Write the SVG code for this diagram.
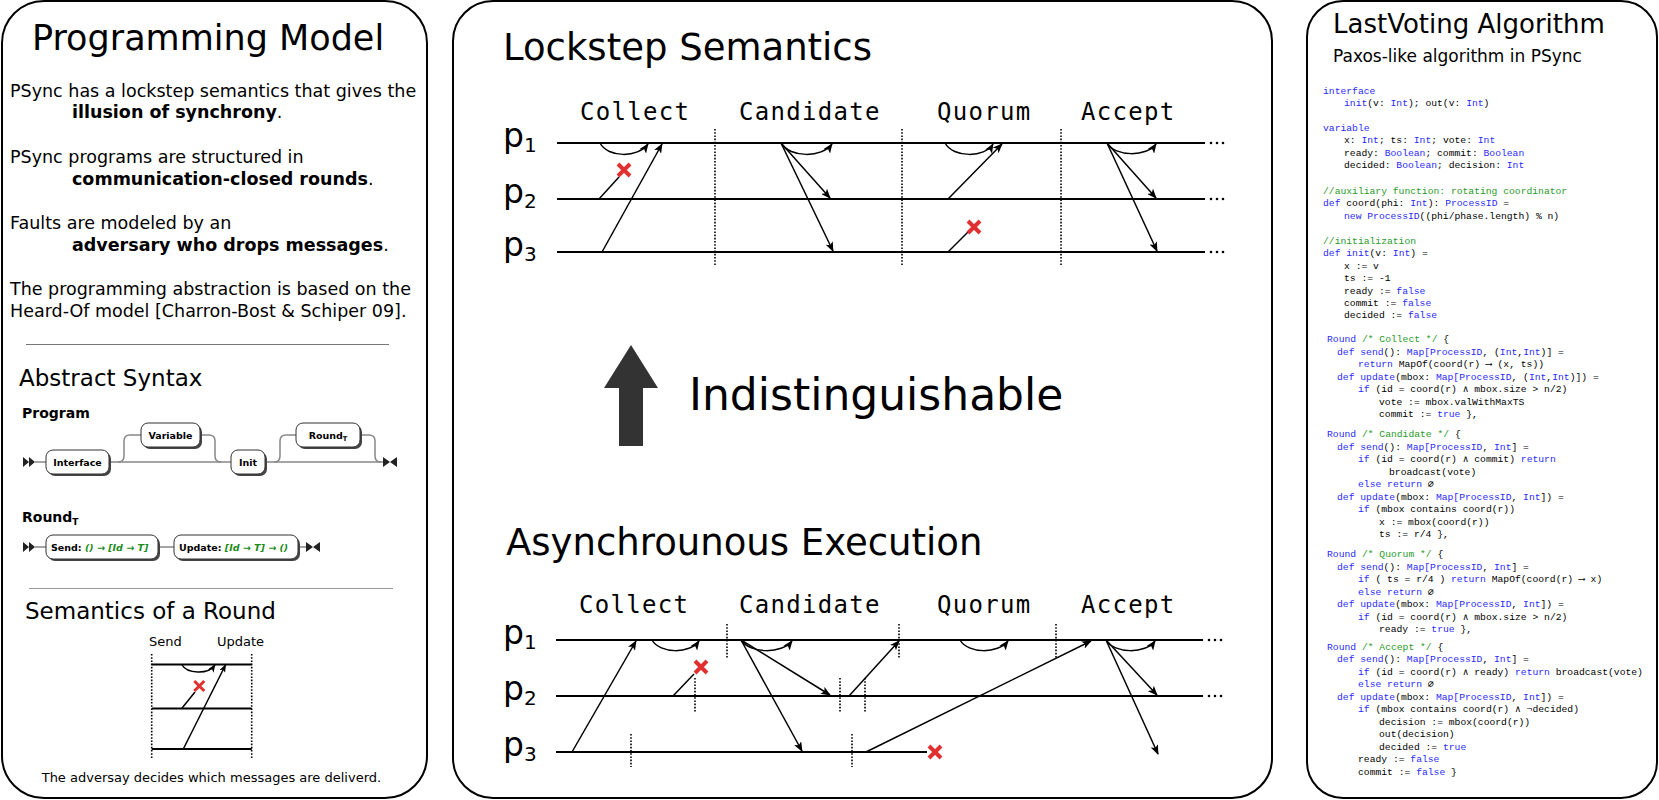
<svg xmlns="http://www.w3.org/2000/svg" width="1659" height="800" viewBox="0 0 1659 800">
<defs>
<style>
.panel{fill:#fff;stroke:#000;stroke-width:2}
.t{font-family:"DejaVu Sans",sans-serif;fill:#000}
.b{font-weight:bold}
.lab{font-family:"DejaVu Sans Mono",monospace;font-size:24px;letter-spacing:1.3px;fill:#000}
.pl{font-family:"DejaVu Sans",sans-serif;font-size:33px;fill:#000}
.ps{font-family:"DejaVu Sans",sans-serif;font-size:20px;fill:#000}
.pline{stroke:#000;stroke-width:2;fill:none}
.msg{stroke:#000;stroke-width:1.5;fill:none}
.arr{stroke:#000;stroke-width:1.5;fill:none;marker-end:url(#ah)}
.dot{stroke:#000;stroke-width:1.6;stroke-dasharray:1.6 1.6;fill:none}
.xm{stroke:#e03030;stroke-width:4;fill:none}
.xs{stroke:#e03030;stroke-width:3;fill:none}
.rail{stroke:#888;stroke-width:1.5;fill:none}
.box{fill:#fff;stroke:#333;stroke-width:1}
.shd{fill:#444}
.bt{font-family:"DejaVu Sans",sans-serif;font-weight:bold;font-size:9.5px;fill:#000}
.gr{fill:#1a8c1a;font-style:italic}
.code{font-family:"Liberation Mono",monospace;font-size:9.7px;fill:#000}
.k{fill:#2a2aff}
.c{fill:#2a9a2a}
</style>
<marker id="ah" viewBox="0 0 10 8" refX="9" refY="4" markerWidth="10" markerHeight="8" orient="auto" markerUnits="userSpaceOnUse"><path d="M0,0 L10,4 L0,8 L2.5,4 z" fill="#000"/></marker>
<marker id="ahs" viewBox="0 0 10 8" refX="9" refY="4" markerWidth="8" markerHeight="6.4" orient="auto" markerUnits="userSpaceOnUse"><path d="M0,0 L10,4 L0,8 L2.5,4 z" fill="#000"/></marker>
<path id="xbig" d="M-6,-6 L6,6 M6,-6 L-6,6"/>
<path id="xsm" d="M-5,-5 L5,5 M5,-5 L-5,5"/>
</defs>

<!-- ============ LEFT PANEL ============ -->
<g id="panel-left">
<rect class="panel" x="2" y="1" width="425" height="797" rx="42" ry="42"/>
<text class="t" x="32" y="50" font-size="35">Programming Model</text>
<g font-size="17.5">
<text class="t" x="10" y="97">PSync has a lockstep semantics that gives the</text>
<text class="t" x="72" y="118"><tspan class="b">illusion of synchrony</tspan>.</text>
<text class="t" x="10" y="163">PSync programs are structured in</text>
<text class="t" x="72" y="185"><tspan class="b">communication-closed rounds</tspan>.</text>
<text class="t" x="10" y="229">Faults are modeled by an</text>
<text class="t" x="72" y="251"><tspan class="b">adversary who drops messages</tspan>.</text>
<text class="t" x="10" y="295">The programming abstraction is based on the</text>
<text class="t" x="10" y="317">Heard-Of model [Charron-Bost &amp; Schiper 09].</text>
</g>
<line x1="26" y1="344.5" x2="389" y2="344.5" stroke="#777" stroke-width="1.2"/>
<text class="t" x="19" y="386" font-size="23">Abstract Syntax</text>
<text class="t b" x="22" y="418" font-size="14">Program</text>
</g>

<g id="rail-program">
<path class="rail" d="M35,462 H46 M109,462 H231 M265,462 H383"/>
<path class="rail" d="M118,462 q6,0 6,-6 v-15 q0,-6 6,-6 h11 M200,435 h9 q6,0 6,6 v15 q0,6 6,6"/>
<path class="rail" d="M274,462 q6,0 6,-6 v-15 q0,-6 6,-6 h10 M360,435 h9 q6,0 6,6 v15 q0,6 6,6"/>
<path d="M23,457 L29,462 L23,467 z M29,457 L35,462 L29,467 z" fill="#222"/>
<path d="M383,457 L390,462 L383,467 z M397,457 L390,462 L397,467 z" fill="#222"/>
<g id="n-interface"><rect class="shd" x="48" y="452" width="63" height="24" rx="7"/><rect class="box" x="46" y="450" width="63" height="24" rx="7"/><text class="bt" x="77.5" y="465.5" text-anchor="middle">Interface</text></g>
<g id="n-variable"><rect class="shd" x="143" y="425" width="59" height="24" rx="7"/><rect class="box" x="141" y="423" width="59" height="24" rx="7"/><text class="bt" x="170.5" y="438.5" text-anchor="middle">Variable</text></g>
<g id="n-init"><rect class="shd" x="233" y="452" width="34" height="24" rx="7"/><rect class="box" x="231" y="450" width="34" height="24" rx="7"/><text class="bt" x="248" y="465.5" text-anchor="middle">Init</text></g>
<g id="n-roundT"><rect class="shd" x="298" y="425" width="64" height="24" rx="7"/><rect class="box" x="296" y="423" width="64" height="24" rx="7"/><text class="bt" x="328" y="438.5" text-anchor="middle">Round<tspan font-size="6.5" dy="2">T</tspan></text></g>
</g>

<g id="rail-round">
<text class="t b" x="22" y="522" font-size="14">Round<tspan font-size="9" dy="3">T</tspan></text>
<path class="rail" d="M35,547 H46 M158,547 H174 M298,547 H306"/>
<path d="M23,542 L29,547 L23,552 z M29,542 L35,547 L29,552 z" fill="#222"/>
<path d="M306,542 L313,547 L306,552 z M320,542 L313,547 L320,552 z" fill="#222"/>
<g id="n-send"><rect class="shd" x="48" y="537" width="112" height="24" rx="7"/><rect class="box" x="46" y="535" width="112" height="24" rx="7"/><text class="bt" x="51" y="550.5">Send: <tspan class="gr">() → [Id → T]</tspan></text></g>
<g id="n-update"><rect class="shd" x="176" y="537" width="124" height="24" rx="7"/><rect class="box" x="174" y="535" width="124" height="24" rx="7"/><text class="bt" x="179" y="550.5">Update: <tspan class="gr">[Id → T] → ()</tspan></text></g>
</g>

<g id="round-semantics">
<line x1="29" y1="588.5" x2="393" y2="588.5" stroke="#999" stroke-width="1.2"/>
<text class="t" x="25" y="619" font-size="23">Semantics of a Round</text>
<text class="t" x="149" y="646" font-size="13">Send</text>
<text class="t" x="217" y="646" font-size="13">Update</text>
<path class="dot" d="M151.7,654 V758 M251.7,654 V758" stroke-width="1.2"/>
<path class="pline" d="M151.7,664.5 H251.7 M151.7,708.5 H251.7 M151.7,749 H251.7" stroke-width="1.5"/>
<path class="msg" d="M181.7,664.5 C187,674 208,675 215,665" marker-end="url(#ahs)" stroke-width="1.2"/>
<path class="msg" d="M183.3,749 L225.5,665" marker-end="url(#ahs)" stroke-width="1.2"/>
<path class="msg" d="M181.7,708.5 L195,692" stroke-width="1.2"/>
<use href="#xsm" class="xs" x="199.3" y="686"/>
<text class="t" x="41.7" y="782" font-size="13">The adversay decides which messages are deliverd.</text>
</g>

<!-- ============ MIDDLE PANEL ============ -->
<g id="panel-middle">
<rect class="panel" x="453" y="1" width="819" height="797" rx="40" ry="40"/>
<text class="t" x="503" y="60" font-size="37">Lockstep Semantics</text>
<text class="t" x="689" y="410" font-size="44">Indistinguishable</text>
<path d="M631,345 L604,388 L619,388 L619,446 L643,446 L643,388 L658,388 z" fill="#333"/>
<text class="t" x="506" y="555" font-size="37">Asynchrounous Execution</text>
</g>

<g id="lockstep">
<text class="lab" x="580" y="120">Collect</text>
<text class="lab" x="739" y="120">Candidate</text>
<text class="lab" x="937" y="120">Quorum</text>
<text class="lab" x="1081" y="120">Accept</text>
<text class="pl" x="503" y="147">p<tspan class="ps" dy="5">1</tspan></text>
<text class="pl" x="503" y="203">p<tspan class="ps" dy="5">2</tspan></text>
<text class="pl" x="503" y="256">p<tspan class="ps" dy="5">3</tspan></text>
<path class="pline" d="M557,143 H1205 M557,199 H1205 M557,252 H1205"/>
<g fill="#000"><circle cx="1211" cy="143" r="1.3"/><circle cx="1217" cy="143" r="1.3"/><circle cx="1223" cy="143" r="1.3"/><circle cx="1211" cy="199" r="1.3"/><circle cx="1217" cy="199" r="1.3"/><circle cx="1223" cy="199" r="1.3"/><circle cx="1211" cy="252" r="1.3"/><circle cx="1217" cy="252" r="1.3"/><circle cx="1223" cy="252" r="1.3"/></g>
<path class="dot" d="M715,129 V265 M902,129 V265 M1061,129 V265"/>
</g>

<g id="lockstep-connectors">
<path class="arr" d="M600,143 C608,158 638,158 648,144"/>
<path class="arr" d="M602,252 L662,144"/>
<path class="msg" d="M599,199 L619,177"/>
<use href="#xbig" class="xm" x="624" y="170"/>
<path class="arr" d="M781,143 C790,158 822,158 832,144"/>
<path class="arr" d="M781,143 L830,198"/>
<path class="arr" d="M781,143 L833,251"/>
<path class="arr" d="M945,143 C953,158 985,158 993,144"/>
<path class="arr" d="M948,199 L1002,144"/>
<path class="msg" d="M948,252 L968,232"/>
<use href="#xbig" class="xm" x="974" y="227"/>
<path class="arr" d="M1107,143 C1115,157 1147,157 1156,144"/>
<path class="arr" d="M1107,143 L1156,198"/>
<path class="arr" d="M1107,143 L1157,251"/>
</g>

<g id="async">
<text class="lab" x="579" y="613">Collect</text>
<text class="lab" x="739" y="613">Candidate</text>
<text class="lab" x="937" y="613">Quorum</text>
<text class="lab" x="1081" y="613">Accept</text>
<text class="pl" x="503" y="644">p<tspan class="ps" dy="5">1</tspan></text>
<text class="pl" x="503" y="700">p<tspan class="ps" dy="5">2</tspan></text>
<text class="pl" x="503" y="756">p<tspan class="ps" dy="5">3</tspan></text>
<path class="pline" d="M556,640 H1203 M556,696 H1203 M556,752 H927"/>
<g fill="#000"><circle cx="1209" cy="640" r="1.3"/><circle cx="1215" cy="640" r="1.3"/><circle cx="1221" cy="640" r="1.3"/><circle cx="1209" cy="696" r="1.3"/><circle cx="1215" cy="696" r="1.3"/><circle cx="1221" cy="696" r="1.3"/></g>
<path class="dot" d="M727,624 V658 M899,624 V658 M1056,624 V658 M695,678 V712 M840,678 V712 M865,678 V712 M631,734 V767 M852,734 V767"/>
</g>

<g id="async-connectors">
<path class="arr" d="M572,752 L636,641"/>
<path class="arr" d="M652,640 C660,654 690,654 699,641"/>
<path class="msg" d="M673,696 L694,674"/>
<use href="#xbig" class="xm" x="701" y="667"/>
<path class="arr" d="M741,640 C750,654 782,654 792,641"/>
<path class="arr" d="M741,640 L830,695"/>
<path class="arr" d="M741,640 L802,751"/>
<path class="arr" d="M849,696 L899,641"/>
<path class="arr" d="M960,640 C968,654 998,654 1008,641"/>
<path class="arr" d="M866,752 L1091,641"/>
<use href="#xbig" class="xm" x="935" y="752"/>
<path class="arr" d="M1106,640 C1114,654 1146,654 1155,641"/>
<path class="arr" d="M1106,640 L1157,695"/>
<path class="arr" d="M1106,640 L1158,754"/>
</g>

<!-- ============ RIGHT PANEL ============ -->
<g id="panel-right">
<rect class="panel" x="1307" y="1" width="350" height="797" rx="36" ry="36"/>
<text class="t" x="1333" y="33" font-size="26">LastVoting Algorithm</text>
<text class="t" x="1333" y="61.5" font-size="17">Paxos-like algorithm in PSync</text>
</g>

<g id="code" class="code" xml:space="preserve">
<text x="1323" y="93.7"><tspan class="k">interface</tspan></text>
<text x="1344" y="106"><tspan class="k">init</tspan>(v: <tspan class="k">Int</tspan>); out(v: <tspan class="k">Int</tspan>)</text>
<text x="1323" y="131"><tspan class="k">variable</tspan></text>
<text x="1344" y="143.3">x: <tspan class="k">Int</tspan>; ts: <tspan class="k">Int</tspan>; vote: <tspan class="k">Int</tspan></text>
<text x="1344" y="156">ready: <tspan class="k">Boolean</tspan>; commit: <tspan class="k">Boolean</tspan></text>
<text x="1344" y="168.3">decided: <tspan class="k">Boolean</tspan>; decision: <tspan class="k">Int</tspan></text>
<text x="1323" y="193.7"><tspan class="c">//auxiliary function: rotating coordinator</tspan></text>
<text x="1323" y="206"><tspan class="k">def</tspan> coord(phi: <tspan class="k">Int</tspan>): <tspan class="k">ProcessID</tspan> =</text>
<text x="1344" y="218.7"><tspan class="k">new</tspan> <tspan class="k">ProcessID</tspan>((phi/phase.length) % n)</text>
<text x="1323" y="243.7"><tspan class="c">//initialization</tspan></text>
<text x="1323" y="256"><tspan class="k">def</tspan> <tspan class="k">init</tspan>(v: <tspan class="k">Int</tspan>) =</text>
<text x="1344" y="268.7">x := v</text>
<text x="1344" y="281">ts := -1</text>
<text x="1344" y="293.7">ready := <tspan class="k">false</tspan></text>
<text x="1344" y="306">commit := <tspan class="k">false</tspan></text>
<text x="1344" y="318.3">decided := <tspan class="k">false</tspan></text>

<text x="1327" y="341.7"><tspan class="k">Round</tspan> <tspan class="c">/* Collect */</tspan> {</text>
<text x="1337" y="354.7"><tspan class="k">def</tspan> <tspan class="k">send</tspan>(): <tspan class="k">Map[ProcessID</tspan>, (<tspan class="k">Int</tspan>,<tspan class="k">Int</tspan>)] =</text>
<text x="1358" y="367"><tspan class="k">return</tspan> MapOf(coord(r) ⟶ (x, ts))</text>
<text x="1337" y="379.7"><tspan class="k">def</tspan> <tspan class="k">update</tspan>(mbox: <tspan class="k">Map[ProcessID</tspan>, (<tspan class="k">Int</tspan>,<tspan class="k">Int</tspan>)]) =</text>
<text x="1358" y="392"><tspan class="k">if</tspan> (id = coord(r) ∧ mbox.size &gt; n/2)</text>
<text x="1379" y="404.7">vote := mbox.valWithMaxTS</text>
<text x="1379" y="417">commit := <tspan class="k">true</tspan> },</text>

<text x="1327" y="437"><tspan class="k">Round</tspan> <tspan class="c">/* Candidate */</tspan> {</text>
<text x="1337" y="449.7"><tspan class="k">def</tspan> <tspan class="k">send</tspan>(): <tspan class="k">Map[ProcessID</tspan>, <tspan class="k">Int</tspan>] =</text>
<text x="1358" y="462"><tspan class="k">if</tspan> (id = coord(r) ∧ commit) <tspan class="k">return</tspan></text>
<text x="1389" y="474.7">broadcast(vote)</text>
<text x="1358" y="487"><tspan class="k">else</tspan> <tspan class="k">return</tspan> ∅</text>
<text x="1337" y="499.7"><tspan class="k">def</tspan> <tspan class="k">update</tspan>(mbox: <tspan class="k">Map[ProcessID</tspan>, <tspan class="k">Int</tspan>]) =</text>
<text x="1358" y="512"><tspan class="k">if</tspan> (mbox contains coord(r))</text>
<text x="1379" y="524.7">x := mbox(coord(r))</text>
<text x="1379" y="537">ts := r/4 },</text>

<text x="1327" y="557"><tspan class="k">Round</tspan> <tspan class="c">/* Quorum */</tspan> {</text>
<text x="1337" y="569.7"><tspan class="k">def</tspan> <tspan class="k">send</tspan>(): <tspan class="k">Map[ProcessID</tspan>, <tspan class="k">Int</tspan>] =</text>
<text x="1358" y="582.3"><tspan class="k">if</tspan> ( ts = r/4 ) <tspan class="k">return</tspan> MapOf(coord(r) ⟶ x)</text>
<text x="1358" y="594.7"><tspan class="k">else</tspan> <tspan class="k">return</tspan> ∅</text>
<text x="1337" y="607.3"><tspan class="k">def</tspan> <tspan class="k">update</tspan>(mbox: <tspan class="k">Map[ProcessID</tspan>, <tspan class="k">Int</tspan>]) =</text>
<text x="1358" y="619.7"><tspan class="k">if</tspan> (id = coord(r) ∧ mbox.size &gt; n/2)</text>
<text x="1379" y="632.3">ready := <tspan class="k">true</tspan> },</text>

<text x="1327" y="649.7"><tspan class="k">Round</tspan> <tspan class="c">/* Accept */</tspan> {</text>
<text x="1337" y="662.3"><tspan class="k">def</tspan> <tspan class="k">send</tspan>(): <tspan class="k">Map[ProcessID</tspan>, <tspan class="k">Int</tspan>] =</text>
<text x="1358" y="675"><tspan class="k">if</tspan> (id = coord(r) ∧ ready) <tspan class="k">return</tspan> broadcast(vote)</text>
<text x="1358" y="687.3"><tspan class="k">else</tspan> <tspan class="k">return</tspan> ∅</text>
<text x="1337" y="699.7"><tspan class="k">def</tspan> <tspan class="k">update</tspan>(mbox: <tspan class="k">Map[ProcessID</tspan>, <tspan class="k">Int</tspan>]) =</text>
<text x="1358" y="712.3"><tspan class="k">if</tspan> (mbox contains coord(r) ∧ ¬decided)</text>
<text x="1379" y="724.7">decision := mbox(coord(r))</text>
<text x="1379" y="737.3">out(decision)</text>
<text x="1379" y="749.7">decided := <tspan class="k">true</tspan></text>
<text x="1358" y="762.3">ready := <tspan class="k">false</tspan></text>
<text x="1358" y="774.7">commit := <tspan class="k">false</tspan> }</text>
</g>
</svg>
